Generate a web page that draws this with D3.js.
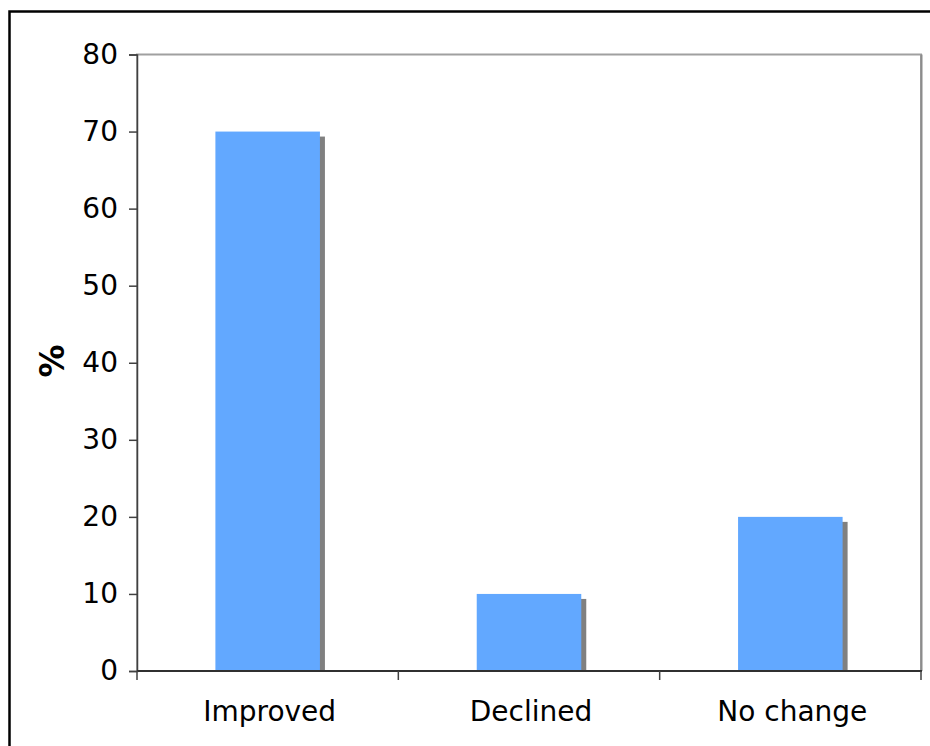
<!DOCTYPE html>
<html>
<head>
<meta charset="utf-8">
<script src="https://cdn.jsdelivr.net/npm/d3@7"></script>
<style>
  html, body { margin: 0; padding: 0; background: #fff; }
  svg { display: block; }
  text { font-family: "DejaVu Sans", Verdana, sans-serif; fill: #000; }
</style>
</head>
<body>
<script>
// Share of respondents by outcome (%)
const categories = ["Improved", "Declined", "No change"];
const values = [70, 10, 20];
const yTicks = [0, 10, 20, 30, 40, 50, 60, 70, 80];
const yLabel = "%";

const W = 930, H = 746;
const plot = { left: 137, top: 54.5, right: 921, bottom: 671 };

const svg = d3.select("body").append("svg")
  .attr("width", W).attr("height", H);

// Outer frame (only the top and left edges fall inside the view)
svg.append("rect")
  .attr("x", 9.5).attr("y", 11.5)
  .attr("width", W + 20).attr("height", H + 20)
  .attr("fill", "none").attr("stroke", "#000").attr("stroke-width", 2.5);

const x = d3.scaleBand()
  .domain(categories)
  .range([plot.left, plot.right])
  .paddingInner(0.6).paddingOuter(0.3);

const y = d3.scaleLinear()
  .domain([0, 80])
  .range([plot.bottom, plot.top]);

// Plot-area frame
svg.append("rect")
  .attr("x", plot.left).attr("y", plot.top)
  .attr("width", plot.right - plot.left).attr("height", plot.bottom - plot.top)
  .attr("fill", "none").attr("stroke", "#a0a0a0").attr("stroke-width", 2);
svg.append("line")
  .attr("x1", plot.right + 0.5).attr("x2", plot.right + 0.5)
  .attr("y1", plot.top).attr("y2", plot.bottom)
  .attr("stroke", "#8c8c8c").attr("stroke-width", 2);

// Bar shadows
const shadowOffset = 5;
svg.append("g").selectAll("rect")
  .data(values)
  .join("rect")
  .attr("x", (d, i) => x(categories[i]) + shadowOffset)
  .attr("y", d => y(d) + shadowOffset)
  .attr("width", x.bandwidth())
  .attr("height", d => y(0) - y(d) - shadowOffset)
  .attr("fill", "#808080");

// Bars
svg.append("g").selectAll("rect")
  .data(values)
  .join("rect")
  .attr("x", (d, i) => x(categories[i]))
  .attr("y", d => y(d))
  .attr("width", x.bandwidth())
  .attr("height", d => y(0) - y(d))
  .attr("fill", "#62a8ff");

// Y axis
const yAxis = svg.append("g")
  .attr("transform", `translate(${plot.left},0)`)
  .call(d3.axisLeft(y).tickValues(yTicks).tickSize(8).tickPadding(11));
yAxis.select(".domain").attr("stroke", "#404040").attr("stroke-width", 1.5);
yAxis.selectAll(".tick line").attr("stroke", "#404040").attr("stroke-width", 1.5);
yAxis.selectAll(".tick text")
  .style("font-family", '"DejaVu Sans", Verdana, sans-serif')
  .style("font-size", "28px").attr("fill", "#000");

// X axis: ticks at category boundaries, labels centred in each band
const xAxisG = svg.append("g").attr("transform", `translate(0,${plot.bottom})`);
xAxisG.append("line")
  .attr("x1", plot.left).attr("x2", plot.right + 1)
  .attr("stroke", "#303030").attr("stroke-width", 2);
const step = (plot.right - plot.left) / categories.length;
const boundaries = d3.range(categories.length + 1).map(i => plot.left + i * step);
xAxisG.selectAll("line.tick")
  .data(boundaries)
  .join("line")
  .attr("class", "tick")
  .attr("x1", d => d).attr("x2", d => d)
  .attr("y1", 0).attr("y2", 9)
  .attr("stroke", "#404040").attr("stroke-width", 1.5);
xAxisG.selectAll("text")
  .data(categories)
  .join("text")
  .attr("x", d => x(d) + x.bandwidth() / 2 + 2)
  .attr("y", 50)
  .attr("text-anchor", "middle")
  .style("font-size", "28px")
  .text(d => d);

// Y axis title
svg.append("text")
  .attr("transform", "translate(52,361) rotate(-90)")
  .attr("text-anchor", "middle")
  .attr("dominant-baseline", "central")
  .style("font-size", "33px")
  .style("font-weight", "bold")
  .text(yLabel);
</script>
</body>
</html>
